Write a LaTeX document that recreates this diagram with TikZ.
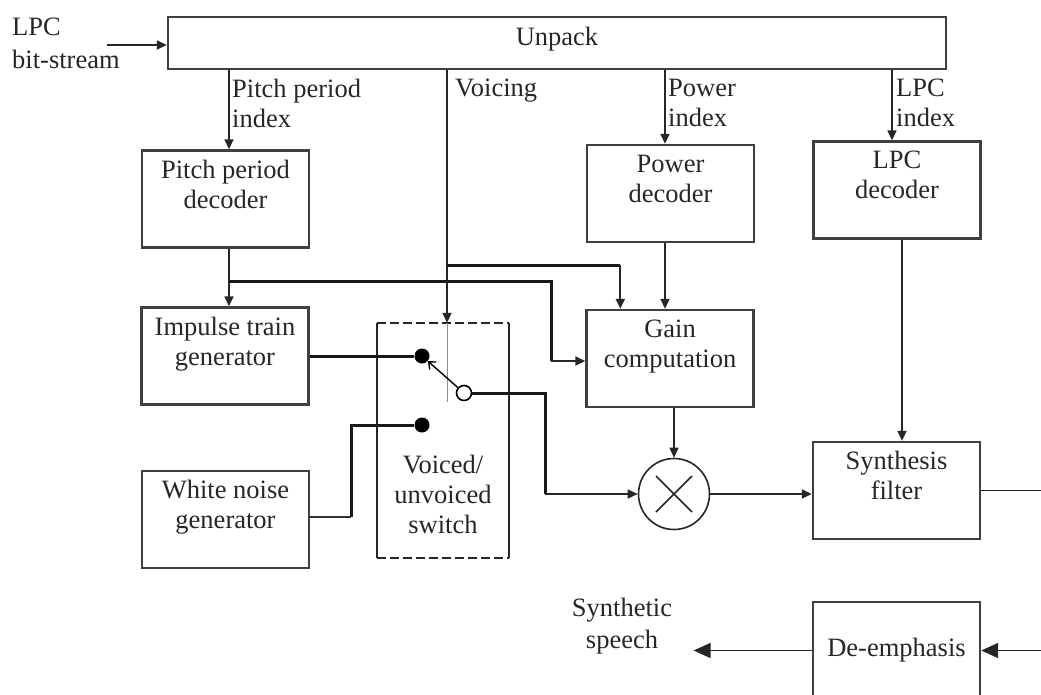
\documentclass[tikz,border=0pt]{standalone}
\usepackage{fontspec}
\setmainfont{Liberation Serif}
\usetikzlibrary{arrows.meta,calc}
\begin{document}
\begin{tikzpicture}[x=1pt,y=-1pt,
  font=\fontsize{26.5}{30}\selectfont,
  blk/.style={draw=black!75, line width=2.4pt, minimum width=167pt, minimum height=97pt, align=center, inner sep=0pt, text=black!85},
  lbl/.style={inner sep=0pt, align=left, anchor=north west, text=black!85},
  conn/.style={line width=1.6pt, draw=black!85},
  arr/.style={conn, -{Triangle[length=10pt,width=9pt]}},
  bigarr/.style={conn, -{Triangle[length=17pt,width=15pt]}},
  heavy/.style={line width=3pt, draw=black!90},
  dot/.style={circle, fill=black, inner sep=0pt, minimum size=15pt},
  odot/.style={circle, draw=black, line width=1.6pt, fill=white, inner sep=0pt, minimum size=15pt},
]
\useasboundingbox (0,0) rectangle (1041,694);

% blocks
\node[blk, minimum width=778pt, minimum height=52pt, text depth=14pt] (unpack) at (557,43) {Unpack};
\node[blk] (pitch) at (225.5,199) {Pitch period\\decoder\\\mbox{}};
\node[blk] (impulse) at (225,356) {Impulse train\\generator\\\mbox{}};
\node[blk] (noise) at (225.5,519.5) {White noise\\generator\\\mbox{}};
\node[blk] (power) at (670.5,193.5) {Power\\decoder\\\mbox{}};
\node[blk] (lpcdec) at (897,190) {LPC\\decoder\\\mbox{}};
\node[blk] (gain) at (670,358.5) {Gain\\computation\\\mbox{}};
\node[blk] (synth) at (896.5,490.5) {Synthesis\\filter\\\mbox{}};
\node[blk] (deemph) at (896.5,650.5) {De-emphasis};

% texts
\node[lbl] (src) at (12,18) {LPC\\[3pt]bit-stream};
\node[lbl] (lpitch) at (232,79) {Pitch period\\index};
\node[lbl] (lvoice) at (455,79) {Voicing};
\node[lbl] (lpower) at (668,79) {Power\\index};
\node[lbl] (llpc) at (896,79) {LPC\\index};
\node[align=center, text=black!85] (speech) at (622,626) {Synthetic\\[2pt]speech};

% switch
\node[minimum width=132pt, minimum height=235pt, inner sep=0pt] (sw) at (443,440.5) {};
\draw[line width=2.4pt, black!85, dash pattern=on 9pt off 4pt] (sw.north west) -- (sw.north east);
\draw[line width=2.4pt, black!85, dash pattern=on 9pt off 4pt] (sw.south west) -- (sw.south east);
\draw[conn] (sw.north west) -- (sw.south west);
\draw[conn] (sw.north east) -- (sw.south east);
\node[align=center, text=black!85] (swlbl) at (443,494) {Voiced/\\unvoiced\\switch};
\node[dot] (d1) at (422,356) {};
\node[dot] (d2) at (422,425) {};
\node[odot] (o) at (464,393) {};

% multiplier
\node[circle, draw=black!85, line width=1.6pt, minimum size=71pt, inner sep=0pt] (mult) at (674,494) {};
\draw[line width=1.5pt, black!85] ($(mult)+(-18,-18)$) -- ($(mult)+(18,18)$);
\draw[line width=1.5pt, black!85] ($(mult)+(-18,18)$) -- ($(mult)+(18,-18)$);

% coordinates
\coordinate (in) at (107,45);
\coordinate (px) at ([xshift=3.5pt]pitch.north);
\coordinate (pxs) at ([xshift=3.5pt]pitch.south);
\coordinate (pj) at (229,281);
\coordinate (vj) at (447,265);
\coordinate (vb) at ($(gain.north west)+(35,0)$);
\coordinate (gin) at ($(gain.west)+(0,2.5)$);
\coordinate (gbend) at ($(gin)+(-34,0)$);
\coordinate (pwx) at ([xshift=-5.5pt]power.north);
\coordinate (pws) at ([xshift=-5.5pt]power.south);
\coordinate (lx) at ([xshift=-5pt]lpcdec.north);
\coordinate (lsx) at ([xshift=5pt]lpcdec.south);
\coordinate (nb) at ($(noise.east)+(41,-2.5)$);
\coordinate (ob) at ($(o)+(81,0)$);
\coordinate (rt) at (1041,490.5);
\coordinate (rt2) at (1041,650.5);
\coordinate (out) at ($(speech.east |- deemph.west)+(18,0)$);

% connectors
\draw[arr] (in) -- (in -| unpack.west);
\draw[arr] (px |- unpack.south) -- (px);
\draw[arr] (unpack.south -| vj) -- (sw.north -| vj);
\draw[black!45, line width=0.8pt] (sw.north -| vj) -- ($(vj |- o)+(0,9)$);
\draw[arr] (unpack.south -| pwx) -- (pwx);
\draw[arr] (unpack.south -| lx) -- (lx);

\draw[arr] (pxs) -- (pxs |- impulse.north);
\draw[heavy] (pj) -- (pj -| gbend) -- (gbend);
\draw[arr] (gbend) -- (gin);
\draw[heavy] (vj) -- (vj -| vb);
\draw[arr, line width=2pt] (vj -| vb) -- (vb);
\draw[arr] (pws) -- (pws |- gain.north);

\draw[heavy] (impulse.east) -- (d1);
\draw[line width=2pt, black!80] (noise.east |- nb) -- (nb);
\draw[heavy] (nb) |- (d2);
\draw[line width=1.4pt, black, -{Straight Barb[length=6pt,width=10pt]}] (o) -- (d1);

\draw[heavy] (o.east) -- (ob) -- (ob |- mult);
\draw[arr] (ob |- mult) -- (mult.west);
\draw[arr] (gain.south -| mult) -- (mult.north);
\draw[arr] (mult.east) -- (mult.east -| synth.west);
\draw[arr] (lsx) -- (lsx |- synth.north);
\draw[conn] (synth.east) -- (rt);
\draw[bigarr] (rt2) -- (deemph.east);
\draw[bigarr] (deemph.west) -- (out);
\end{tikzpicture}
\end{document}
